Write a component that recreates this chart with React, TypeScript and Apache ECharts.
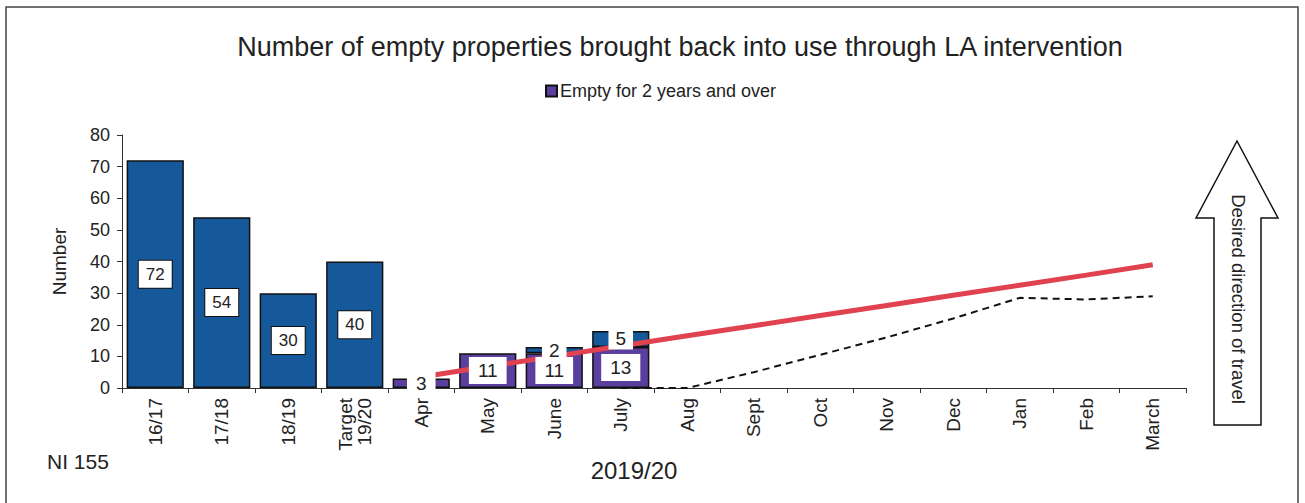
import React, { useEffect, useRef } from "react";
import * as echarts from "echarts";

const categories = ["16/17", "17/18", "18/19", "Target\n19/20", "Apr", "May", "June", "July", "Aug", "Sept", "Oct", "Nov", "Dec", "Jan", "Feb", "March"];
const annualValues: (number | null)[] = [72, 54, 30, 40, null, null, null, null, null, null, null, null, null, null, null, null];
const emptyTwoYears: (number | null)[] = [null, null, null, null, 3, 11, 11, 13, null, null, null, null, null, null, null, null];
const otherMonthly: (number | null)[] = [null, null, null, null, null, null, 2, 5, null, null, null, null, null, null, null, null];
const targetLine: (number | null)[] = [null, null, null, null, 3.5, 6.8, 10, 13.3, 16.5, 19.7, 22.9, 26.1, 29.3, 32.5, 35.7, 39];
const projection: (number | null)[] = [null, null, null, null, null, null, null, 0, 0, 5, 10.5, 16, 22, 28.5, 28, 29];
const yTicks = { min: 0, max: 80, interval: 10 };

const BLUE = "#15599a";
const PURPLE = "#5a3f9f";
const FONT = "Liberation Sans, Arial, sans-serif";

export default function App() {
  const ref = useRef<HTMLDivElement>(null);
  useEffect(() => {
    document.body.style.margin = "0";
    const chart = echarts.init(ref.current!, null, { renderer: "svg" });
    const monthLabel = {
      show: true,
      position: "inside",
      backgroundColor: "#fff",
      color: "#222",
      fontSize: 19,
      fontFamily: FONT,
      padding: [5, 9, 3, 9],
    };
    const toData = (arr: (number | null)[]) => arr.map((v) => (v == null ? "-" : v));
    const barCommon = { type: "bar", barCategoryGap: "14%", barGap: "-100%" };
    chart.setOption({
      animation: false,
      textStyle: { fontFamily: FONT },
      title: {
        text: "Number of empty properties brought back into use through LA intervention",
        left: 675,
        textAlign: "center",
        top: 28,
        textStyle: { fontSize: 27, fontWeight: "normal", color: "#222", fontFamily: FONT },
      },
      legend: {
        data: [{ name: "Empty for 2 years and over", icon: "rect" }],
        top: 77,
        left: 540,
        itemWidth: 11,
        itemHeight: 11,
        itemGap: 4,
        textStyle: { fontSize: 18, color: "#222", fontFamily: FONT, padding: [0, 0, 0, -2] },
      },
      grid: { left: 122, right: 119, top: 135, bottom: 115 },
      xAxis: {
        type: "category",
        data: categories,
        axisLine: { lineStyle: { color: "#333", width: 1 } },
        axisTick: { show: true, length: 5, lineStyle: { color: "#333" } },
        axisLabel: { rotate: 90, fontSize: 19, color: "#222", margin: 10, fontFamily: FONT, lineHeight: 19 },
      },
      yAxis: {
        type: "value",
        min: yTicks.min,
        max: yTicks.max,
        interval: yTicks.interval,
        name: "Number",
        nameLocation: "middle",
        nameGap: 53,
        nameRotate: 90,
        nameTextStyle: { fontSize: 19, color: "#222", fontFamily: FONT },
        axisLine: { show: true, lineStyle: { color: "#333" } },
        axisTick: { show: true, length: 5, lineStyle: { color: "#333" } },
        axisLabel: { fontSize: 18, color: "#222", fontFamily: FONT, margin: 12 },
        splitLine: { show: false },
      },
      series: [
        {
          ...barCommon,
          name: "Annual",
          stack: "s",
          data: toData(annualValues),
          itemStyle: { color: BLUE, borderColor: "#111", borderWidth: 1.5 },
          label: {
            show: true,
            position: "inside",
            backgroundColor: "#fff",
            borderColor: "#111",
            borderWidth: 1,
            color: "#222",
            fontSize: 17,
            fontFamily: FONT,
            padding: [6, 7, 4, 7],
          },
          z: 3,
        },
        {
          ...barCommon,
          name: "Empty for 2 years and over",
          stack: "s",
          data: toData(emptyTwoYears),
          itemStyle: { color: PURPLE, borderColor: "#111", borderWidth: 1.5 },
          z: 3,
        },
        {
          ...barCommon,
          name: "Other",
          stack: "s",
          data: toData(otherMonthly),
          itemStyle: { color: BLUE, borderColor: "#111", borderWidth: 1.5 },
          z: 3,
        },
        {
          name: "Projection",
          type: "line",
          data: projection,
          symbol: "none",
          lineStyle: { color: "#111", width: 2, type: [7, 5] },
          z: 1,
        },
        {
          name: "Target",
          type: "line",
          data: targetLine,
          symbol: "none",
          lineStyle: { color: "#e0434f", width: 5 },
          z: 4,
        },
        {
          ...barCommon,
          name: "EmptyLabels",
          stack: "l",
          data: toData(emptyTwoYears),
          itemStyle: { color: "rgba(0,0,0,0)", borderWidth: 0 },
          label: monthLabel,
          silent: true,
          z: 5,
        },
        {
          ...barCommon,
          name: "OtherLabels",
          stack: "l",
          data: toData(otherMonthly),
          itemStyle: { color: "rgba(0,0,0,0)", borderWidth: 0 },
          label: { ...monthLabel, padding: [2, 7, 0, 7] },
          silent: true,
          z: 5,
        },
      ],
      graphic: [
        { type: "rect", shape: { x: 6, y: 7, width: 1292, height: 520 }, style: { fill: "none", stroke: "#444", lineWidth: 1.5 }, silent: true },
        {
          type: "polygon",
          shape: { points: [[1237, 141], [1278, 218], [1261, 218], [1261, 425], [1214, 425], [1214, 218], [1196, 218]] },
          style: { fill: "#fff", stroke: "#111", lineWidth: 1.5 },
        },
        {
          type: "text",
          x: 1238,
          y: 299,
          rotation: -Math.PI / 2,
          style: { text: "Desired direction of travel", fontSize: 18.5, fill: "#222", align: "center", verticalAlign: "middle", fontFamily: FONT },
        },
        { type: "text", x: 47, y: 461, style: { text: "NI 155", fontSize: 21, fill: "#222", verticalAlign: "middle", fontFamily: FONT } },
        { type: "text", x: 634, y: 470, style: { text: "2019/20", fontSize: 24, fill: "#222", align: "center", verticalAlign: "middle", fontFamily: FONT } },
      ],
    });
    return () => chart.dispose();
  }, []);
  return <div ref={ref} style={{ width: 1305, height: 503 }} />;
}
